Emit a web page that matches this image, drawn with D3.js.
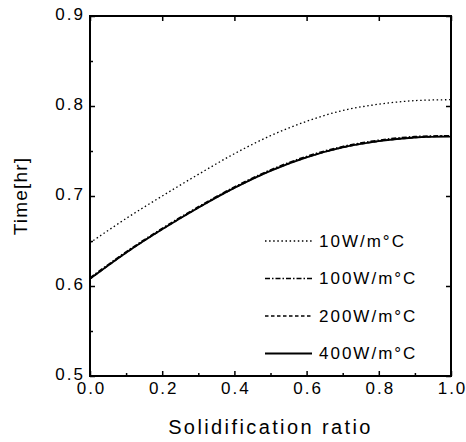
<!DOCTYPE html>
<html>
<head>
<meta charset="utf-8">
<script src="https://cdn.jsdelivr.net/npm/d3@7"></script>
<style>
  body { margin: 0; background: #fff; }
  text { font-family: "Liberation Sans", Arial, sans-serif; fill: #000; }
</style>
</head>
<body>
<div id="chart"></div>
<script>
const width = 466
const height = 442
const margin = { top: 16, right: 15, bottom: 66, left: 90 }

// data
const ratio = [0, 0.1, 0.2, 0.3, 0.4, 0.5, 0.6, 0.7, 0.8, 0.9, 1.0]
const t10 = [0.648, 0.675, 0.700, 0.724, 0.747, 0.767, 0.783, 0.795, 0.802, 0.806, 0.807]
const t100 = [0.609, 0.638, 0.664, 0.688, 0.710, 0.729, 0.744, 0.755, 0.762, 0.766, 0.767]
const t200 = [0.608, 0.637, 0.663, 0.687, 0.709, 0.728, 0.743, 0.754, 0.761, 0.765, 0.767]
const t400 = [0.608, 0.637, 0.663, 0.687, 0.709, 0.728, 0.743, 0.754, 0.761, 0.765, 0.766]
const seriesNames = ["10W/m°C", "100W/m°C", "200W/m°C", "400W/m°C"]
const xTicks = [0, 0.2, 0.4, 0.6, 0.8, 1.0]
const yTicks = [0.5, 0.6, 0.7, 0.8, 0.9]

const series = [
  { name: seriesNames[0], values: t10, dash: "1.5,2.6", w: 1.3 },
  { name: seriesNames[1], values: t100, dash: "5,2,1.5,2", w: 1.6 },
  { name: seriesNames[2], values: t200, dash: "3.5,2.5", w: 1.6 },
  { name: seriesNames[3], values: t400, dash: null, w: 1.8 }
]

const innerW = width - margin.left - margin.right
const innerH = height - margin.top - margin.bottom

const svg = d3.select("div#chart").append("svg").attr("width", width).attr("height", height)
const g = svg.append("g").attr("transform", `translate(${margin.left}, ${margin.top})`)

const x = d3.scaleLinear().domain([0, 1]).range([0, innerW])
const y = d3.scaleLinear().domain([0.5, 0.9]).range([innerH, 0])

// minor ticks
const xMinor = d3.range(0.1, 1, 0.2)
const yMinor = d3.range(0.55, 0.9, 0.1)

function styleAxis(sel) {
  sel.select(".domain").remove()
  sel.selectAll(".tick line").attr("stroke", "#000").attr("stroke-width", 1.5)
  sel.selectAll(".tick text").style("font-size", "17px").style("letter-spacing", "2px")
}

g.append("g").attr("transform", `translate(0, ${innerH})`)
  .call(d3.axisBottom(x).tickValues(xTicks).tickFormat(d3.format(".1f")).tickSizeInner(-5).tickSizeOuter(0).tickPadding(6))
  .call(styleAxis)
  .selectAll(".tick text").attr("dx", "1px")
g.append("g").attr("transform", `translate(0, ${innerH})`)
  .call(d3.axisBottom(x).tickValues(xMinor).tickFormat("").tickSizeInner(-3).tickSizeOuter(0))
  .call(styleAxis)
g.append("g")
  .call(d3.axisLeft(y).tickValues(yTicks).tickFormat(d3.format(".1f")).tickSizeInner(-5).tickSizeOuter(0).tickPadding(5))
  .call(styleAxis)
  .selectAll(".tick text").attr("dy", "0.2em")
g.append("g")
  .call(d3.axisLeft(y).tickValues(yMinor).tickFormat("").tickSizeInner(-3).tickSizeOuter(0))
  .call(styleAxis)
g.append("g").attr("transform", `translate(${innerW}, 0)`)
  .call(d3.axisRight(y).tickValues(yTicks).tickFormat("").tickSizeInner(-5).tickSizeOuter(0))
  .call(styleAxis)
g.append("g")
  .call(d3.axisTop(x).tickValues(xTicks).tickFormat("").tickSizeInner(-5).tickSizeOuter(0))
  .call(styleAxis)

// frame
g.append("rect").attr("width", innerW).attr("height", innerH)
  .attr("fill", "none").attr("stroke", "#000").attr("stroke-width", 2)

const line = d3.line().x((d, i) => x(ratio[i])).y(d => y(d)).curve(d3.curveCatmullRom)

series.forEach(s => {
  g.append("path").datum(s.values)
    .attr("d", line)
    .attr("fill", "none")
    .attr("stroke", "#000")
    .attr("stroke-width", s.w)
    .attr("stroke-dasharray", s.dash)
})

// legend
const legend = g.append("g").attr("transform", `translate(${265 - margin.left}, ${241 - margin.top})`)
series.forEach((s, i) => {
  const row = legend.append("g").attr("transform", `translate(0, ${i * 37.5})`)
  row.append("line").attr("x1", 0).attr("x2", 47).attr("y1", 0).attr("y2", 0)
    .attr("stroke", "#000").attr("stroke-width", s.w).attr("stroke-dasharray", s.dash)
  row.append("text").attr("x", 54).attr("y", 0).attr("dy", "0.35em")
    .style("font-size", "17px").style("letter-spacing", "2px").text(s.name)
})

// axis titles
svg.append("text").text("Solidification ratio")
  .attr("x", margin.left + innerW / 2).attr("y", 434)
  .attr("text-anchor", "middle").style("font-size", "20px").style("letter-spacing", "2.4px")
svg.append("text").text("Time[hr]")
  .attr("transform", `translate(27, ${margin.top + innerH / 2}) rotate(-90)`)
  .attr("text-anchor", "middle").style("font-size", "19px").style("letter-spacing", "1.2px")
</script>
</body>
</html>
